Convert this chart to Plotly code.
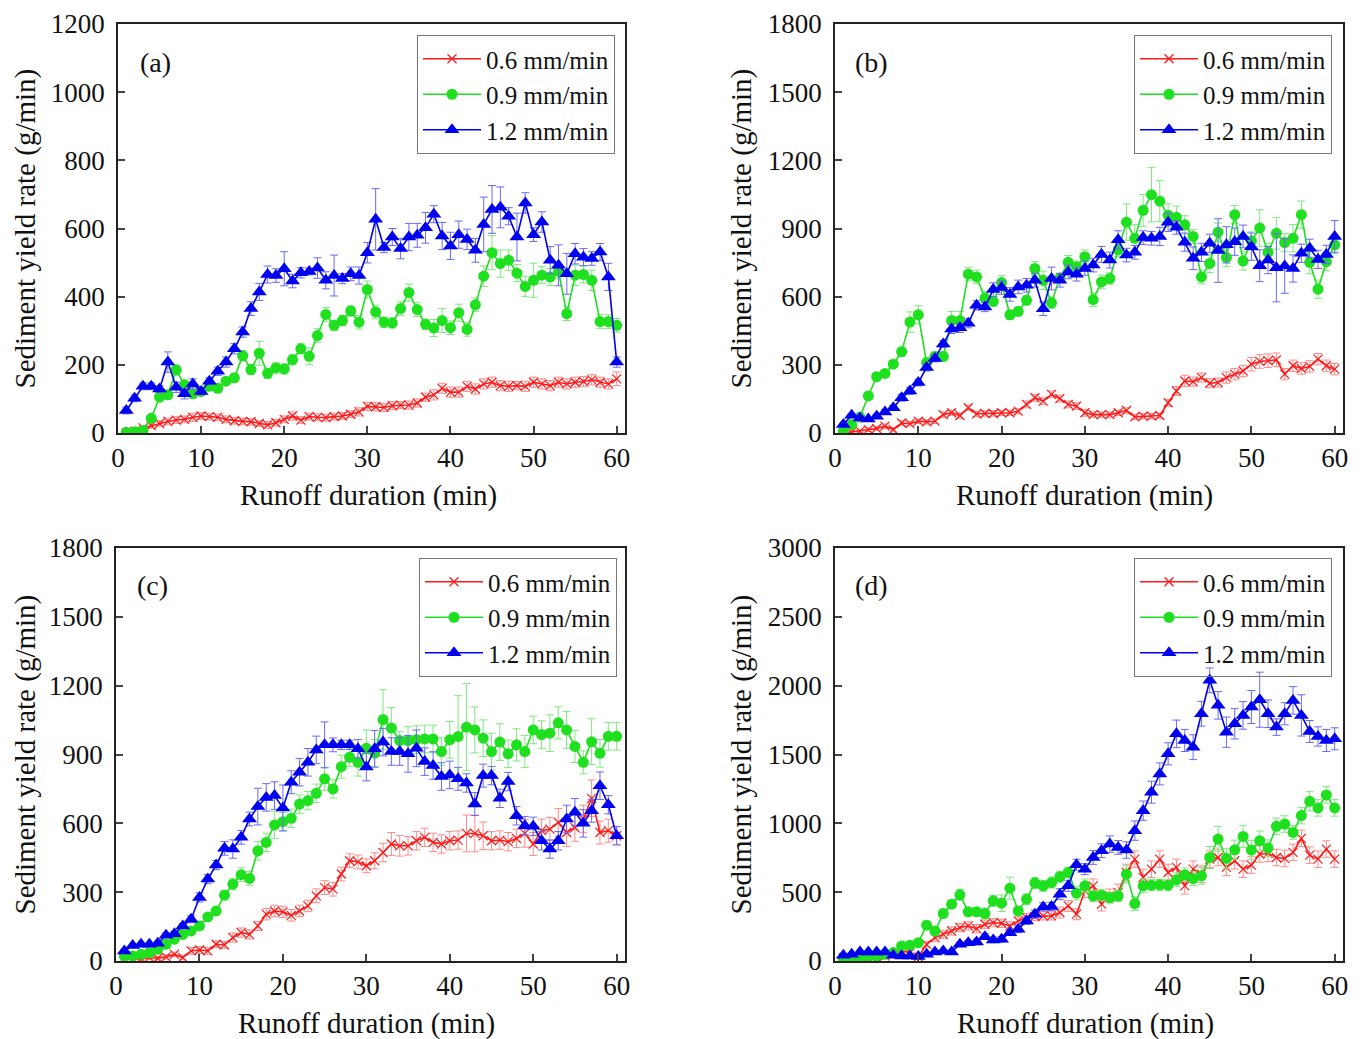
import plotly.graph_objects as go

minutes = list(range(1, 61))
series_names = ["0.6 mm/min", "0.9 mm/min", "1.2 mm/min"]
panel_labels = ["(a)", "(b)", "(c)", "(d)"]

# ---------- panel (a) ----------
a_red = [0,5,15,22,28,34,38,40,46,50,48,46,40,36,34,33,28,24,30,40,50,38,48,46,45,48,50,55,62,78,
         77,75,80,82,82,88,105,112,131,120,120,137,129,144,149,139,137,139,137,149,144,139,149,144,149,151,156,149,144,159]
a_red_err = [3,4,6,8,8,10,10,10,12,10,10,10,10,10,10,10,8,10,10,10,12,10,10,10,10,10,10,10,12,12,
             12,12,12,10,12,12,12,15,15,15,15,15,15,15,15,15,15,12,15,15,15,15,15,15,15,15,15,15,15,20]
a_green = [2,4,7,43,105,112,185,141,115,122,137,131,152,162,227,186,234,175,191,188,215,247,225,286,348,316,330,358,325,421,
           355,325,323,365,412,362,319,308,330,309,353,304,376,460,529,497,507,469,430,448,463,458,474,350,463,465,448,327,327,316]
a_green_err = [2,3,5,8,10,10,15,15,12,10,10,10,10,12,15,15,35,15,15,15,15,15,25,20,20,15,15,15,20,25,
               20,15,15,20,25,20,15,25,35,20,25,20,20,30,50,40,30,25,30,50,25,25,20,20,30,25,30,20,20,20]
a_blue = [66,102,137,137,129,208,134,115,144,122,152,181,208,247,296,365,414,465,462,482,446,470,474,484,448,462,453,467,462,529,
          627,544,575,541,575,580,602,642,578,549,582,568,536,612,656,662,636,575,675,582,619,507,492,467,526,516,512,531,458,208]
a_blue_err = [10,10,10,10,10,30,15,15,15,10,10,12,15,15,15,20,25,25,20,50,20,15,10,30,25,60,15,20,25,30,
              90,15,25,30,40,35,45,25,40,40,40,30,35,80,70,60,25,70,30,20,30,40,60,60,30,25,20,25,40,15]

# ---------- panel (b) ----------
b_red = [0,5,8,15,20,30,15,44,41,52,49,52,81,89,77,111,84,86,86,89,89,96,126,155,140,170,151,126,118,89,
         81,81,81,89,99,71,74,74,77,133,185,229,226,244,219,222,244,259,273,303,315,318,322,259,296,284,293,325,296,281]
b_red_err = [3,5,5,8,8,10,10,10,10,10,10,10,12,12,12,12,12,12,12,12,12,12,15,15,15,15,15,15,15,15,
             12,12,12,12,12,12,12,12,12,15,20,25,20,20,20,20,25,25,25,30,30,30,30,25,25,25,25,25,25,25]
b_green = [7,37,70,163,248,262,303,358,488,520,310,337,337,495,495,699,687,594,579,662,520,535,584,724,672,573,683,751,732,776,
           587,665,680,806,928,857,980,1049,1020,958,949,916,865,687,746,884,772,961,757,845,902,795,879,838,857,961,751,633,754,828]
b_green_err = [5,8,10,15,15,15,15,20,45,40,20,20,20,40,40,30,30,30,20,30,20,20,20,30,40,25,20,30,25,30,
               30,30,25,30,80,60,70,120,90,50,50,40,30,30,40,40,40,40,40,40,80,40,70,40,60,60,50,40,40,40]
b_blue = [37,78,66,62,74,92,111,155,185,222,288,328,392,458,463,483,562,554,631,640,610,643,650,672,547,680,672,709,699,724,
          739,786,761,850,783,795,860,857,865,927,905,840,769,795,835,803,828,842,865,820,736,761,727,735,724,791,813,764,786,865]
b_blue_err = [5,5,5,5,8,10,10,15,15,15,15,15,15,20,20,20,20,20,30,30,30,30,30,30,30,50,30,30,30,30,
              30,35,35,40,30,30,30,30,40,40,30,40,50,40,40,140,80,60,50,60,70,60,150,120,60,40,40,40,40,70]

# ---------- panel (c) ----------
c_red = [7,10,8,15,12,18,29,15,44,48,44,73,70,102,124,116,153,204,218,214,199,218,240,284,320,313,379,437,432,415,
         437,473,510,502,502,524,539,517,510,524,527,556,556,546,524,527,520,534,556,510,568,575,604,560,582,619,709,560,568,546]
c_red_err = [5,5,5,8,8,10,10,10,15,15,15,15,15,20,20,20,20,25,25,25,25,25,25,30,30,30,30,30,30,30,
             35,40,50,45,40,40,40,40,40,40,40,80,80,60,40,40,40,40,60,50,50,50,60,60,60,60,80,50,50,40]
c_green = [22,22,29,36,51,73,95,116,131,153,192,218,287,335,376,360,480,517,593,607,622,684,699,731,794,750,847,888,866,927,
           906,1052,1015,961,961,965,968,968,913,964,978,1019,1007,971,913,954,903,942,913,1007,987,993,1038,1007,935,866,956,905,979,979]
c_green_err = [5,5,5,8,8,10,10,10,10,15,15,15,20,25,30,30,40,40,60,40,40,40,40,40,50,40,50,40,60,80,
               60,130,90,40,60,60,60,60,60,80,180,190,100,80,80,80,60,70,70,60,60,80,70,80,70,50,100,60,60,60]
c_blue = [44,68,73,73,77,112,119,153,182,277,357,418,491,488,539,619,673,713,721,667,779,823,866,920,942,942,942,942,925,845,
          925,954,913,913,903,927,869,852,804,811,794,776,684,808,808,709,782,633,590,587,524,488,524,619,648,600,655,764,681,546]
c_blue_err = [5,5,5,5,8,10,10,10,15,20,20,20,30,40,30,30,80,60,60,100,50,60,60,60,100,30,20,20,40,60,
              80,60,60,60,80,80,60,60,60,60,50,40,50,50,40,40,40,40,40,40,40,40,40,60,60,60,50,60,40,40]

# ---------- panel (d) ----------
d_red = [24,24,31,24,24,36,49,73,61,30,121,170,194,218,243,255,235,267,279,274,255,291,316,323,328,328,352,400,340,510,
         546,413,473,498,643,740,607,667,740,643,680,546,667,631,740,752,680,728,667,697,777,781,752,745,789,891,769,740,813,740]
d_red_err = [10,10,10,10,10,10,10,15,15,15,20,30,30,30,30,30,30,30,30,30,30,30,30,30,30,30,40,40,40,50,
             50,50,50,60,60,60,60,60,60,60,60,60,60,60,60,60,60,60,60,60,60,60,60,60,60,60,60,60,60,60]
d_green = [17,20,20,36,36,49,61,109,114,133,260,218,345,413,481,357,357,345,437,420,529,364,449,566,546,570,612,643,493,546,
           473,478,461,473,631,417,546,551,553,551,590,626,599,619,752,886,745,808,905,806,874,820,978,995,934,1056,1160,1112,1206,1112]
d_green_err = [5,5,5,8,8,10,10,15,15,20,30,30,30,30,40,30,30,40,40,60,80,30,40,40,40,40,40,40,50,50,
               40,40,40,40,60,50,50,40,40,40,50,50,50,60,80,90,70,70,80,70,70,60,60,60,50,60,70,60,60,60]
d_blue = [41,49,66,66,66,66,41,36,36,32,49,66,73,66,121,133,138,177,153,158,206,231,291,340,393,396,485,546,699,667,
          752,801,849,825,806,947,1092,1226,1359,1505,1650,1602,1553,1796,2039,1857,1662,1723,1784,1845,1898,1796,1699,1796,1893,1784,1667,1631,1602,1614]
d_blue_err = [5,5,5,5,5,5,5,5,5,5,10,10,10,10,15,15,20,20,20,20,20,25,25,30,30,30,40,40,40,40,
              50,50,60,50,60,70,70,80,80,80,100,80,90,90,90,100,110,110,100,120,200,100,60,80,100,150,80,70,80,80]

y_max = [1200, 1800, 1800, 3000]
y_dtick = [200, 300, 300, 500]

panels = [
    [(a_red, a_red_err), (a_green, a_green_err), (a_blue, a_blue_err)],
    [(b_red, b_red_err), (b_green, b_green_err), (b_blue, b_blue_err)],
    [(c_red, c_red_err), (c_green, c_green_err), (c_blue, c_blue_err)],
    [(d_red, d_red_err), (d_green, d_green_err), (d_blue, d_blue_err)],
]

# the page body adds an 8px offset, so the figure is sized to fit the window
OFF = 8
W, H = 1365 - OFF, 1039 - OFF
FONT = "Liberation Serif, Times New Roman, serif"
line_colors = ["#FF1A1A", "#1EE01E", "#0000F0"]
err_colors = ["#FF8A8A", "#7FE87F", "#6A6AF5"]
marker_syms = ["x-thin-open", "circle", "triangle-up"]
marker_sizes = [9, 11, 13]

# positions measured on the reference window (pixels): (left, right, top, bottom)
rects = [(118, 625, 24, 433), (835, 1343, 24, 433), (116, 625, 548, 961), (835, 1343, 548, 961)]
legend_pos = [(615, 35), (1332, 35), (617, 558), (1332, 558)]
label_pos = [(155, 62), (871, 62), (152, 585), (871, 585)]
xtitle_x = [368, 1084, 366, 1085]
ytitle_x = [25, 741, 25, 741]


def fx(px):
    return (px - OFF) / W


def fy(py):
    return 1 - (py - OFF) / H


fig = go.Figure()
layout = {}
for p, series in enumerate(panels):
    k = "" if p == 0 else str(p + 1)
    L, R, T, B = rects[p]
    leg_name = "legend" if p == 0 else f"legend{p + 1}"
    for s, (vals, errs) in enumerate(series):
        fig.add_trace(go.Scatter(
            x=minutes, y=vals, name=series_names[s], mode="lines+markers",
            xaxis="x" + k, yaxis="y" + k, legend=leg_name,
            line=dict(color=line_colors[s], width=1.6),
            marker=dict(symbol=marker_syms[s], size=marker_sizes[s], color=line_colors[s],
                        line=dict(color=line_colors[s], width=1.2 if s == 0 else 0)),
            error_y=dict(type="data", array=errs, visible=True, color=err_colors[s],
                         thickness=1, width=4),
        ))
    axis_common = dict(
        ticks="inside", ticklen=7, tickwidth=1.5, showline=True, linewidth=1.5, linecolor="#222",
        mirror=True, showgrid=False, zeroline=False, automargin=False,
        tickfont=dict(family=FONT, size=27, color="#111"))
    layout["xaxis" + k] = dict(
        domain=[fx(L), fx(R)], anchor="y" + k, range=[0, 61], tickvals=[0, 10, 20, 30, 40, 50, 60],
        **axis_common)
    layout["yaxis" + k] = dict(
        domain=[fy(B), fy(T)], anchor="x" + k, range=[0, y_max[p]], dtick=y_dtick[p],
        ticklabelstandoff=6, **axis_common)
    lx, ly = legend_pos[p]
    layout[leg_name] = dict(
        x=fx(lx), y=fy(ly), xanchor="right", yanchor="top",
        bordercolor="#777", borderwidth=1, bgcolor="rgba(255,255,255,0)",
        font=dict(family=FONT, size=25, color="#111"), tracegroupgap=0, itemwidth=58)

annotations = []
for p in range(4):
    L, R, T, B = rects[p]
    px, py = label_pos[p]
    annotations.append(dict(text=panel_labels[p], x=fx(px), y=fy(py), xref="paper", yref="paper",
                            xanchor="center", yanchor="middle", showarrow=False,
                            font=dict(family=FONT, size=28, color="#111")))
    annotations.append(dict(text="Runoff duration (min)", x=fx(xtitle_x[p]), y=fy(B + 62),
                            xref="paper", yref="paper", xanchor="center", yanchor="middle",
                            showarrow=False, font=dict(family=FONT, size=29, color="#111")))
    annotations.append(dict(text="Sediment yield rate (g/min)", x=fx(ytitle_x[p]), y=fy((T + B) / 2),
                            xref="paper", yref="paper", xanchor="center", yanchor="middle",
                            showarrow=False, textangle=-90,
                            font=dict(family=FONT, size=29, color="#111")))

fig.update_layout(
    width=W, height=H, margin=dict(l=0, r=0, t=0, b=0, autoexpand=False),
    paper_bgcolor="white", plot_bgcolor="white",
    annotations=annotations, **layout)

fig.write_html("out.html")
